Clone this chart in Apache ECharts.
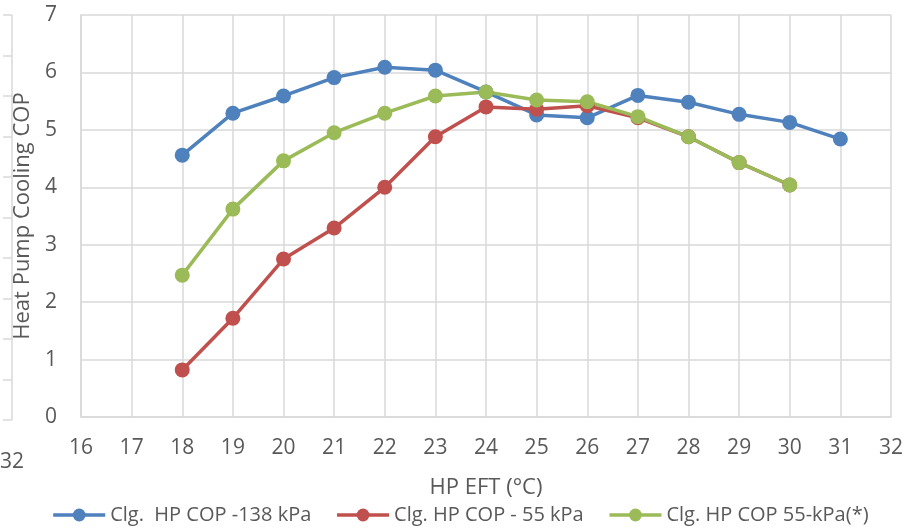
<!DOCTYPE html>
<html><head><meta charset="utf-8">
<script src="https://cdn.jsdelivr.net/npm/echarts@6/dist/echarts.min.js"></script>
<style>html,body{margin:0;padding:0;background:#fff}#c{width:920px;height:531px}</style>
</head><body><div id="c"></div>
<script>
const xValues = [18,19,20,21,22,23,24,25,26,27,28,29,30,31];
const seriesNames = ['Clg.  HP COP -138 kPa','Clg. HP COP - 55 kPa','Clg. HP COP 55-kPa(*)'];
const cop138 = [4.56,5.29,5.59,5.91,6.09,6.04,5.66,5.26,5.21,5.60,5.48,5.27,5.13,4.84];
const cop55 = [0.82,1.72,2.75,3.29,4.00,4.88,5.40,5.36,5.42,5.21,4.88,4.43,4.04];
const cop55s = [2.47,3.62,4.46,4.95,5.29,5.59,5.66,5.52,5.49,5.23,4.88,4.43,4.04];
const xTicks = {min:16,max:32,interval:1};
const yTicks = {min:0,max:7,interval:1};
const sideTicks = {min:0,max:32,interval:32};

const colors = ['#4F81BD','#C0504D','#9BBB59'];
const font = '"Open Sans", sans-serif';
const grey = '#595959';
const gridC = '#d9d9d9';
function pairs(v){return v.map((y,i)=>[xValues[i],y]);}
const chart = echarts.init(document.getElementById('c'));
const common = {symbol:'circle',symbolSize:15,xAxisIndex:0,yAxisIndex:0,type:'line'};
chart.setOption({
  animation:false,
  textStyle:{fontFamily:font},
  grid:[
    {left:81,right:29,top:15,bottom:114,containLabel:false},
    {left:0,width:12,top:15,bottom:111,containLabel:false}
  ],
  legend:{
    bottom:1,left:'center',itemWidth:52,itemHeight:16,itemGap:24,
    lineStyle:{width:3.5},
    textStyle:{fontFamily:font,fontSize:20,color:grey},
    data:seriesNames
  },
  xAxis:[
    {type:'value',gridIndex:0,min:xTicks.min,max:xTicks.max,interval:xTicks.interval,
     name:'HP EFT (°C)',nameLocation:'middle',nameGap:60,
     nameTextStyle:{fontFamily:font,fontSize:22,color:grey},
     axisLine:{show:true,lineStyle:{color:gridC,width:1.5}},axisTick:{show:false},
     axisLabel:{fontSize:21,color:grey,margin:21,fontFamily:font},
     splitLine:{show:true,lineStyle:{color:gridC,width:1.5}}},
    {type:'value',gridIndex:1,min:sideTicks.min,max:sideTicks.max,interval:sideTicks.interval,
     axisLine:{show:false},axisTick:{show:false},
     axisLabel:{fontSize:21,color:grey,margin:32,fontFamily:font,showMinLabel:false},
     splitLine:{show:true,showMinLine:false,lineStyle:{color:gridC,width:1.5}}}
  ],
  yAxis:[
    {type:'value',gridIndex:0,min:yTicks.min,max:yTicks.max,interval:yTicks.interval,
     name:'Heat Pump Cooling COP',nameLocation:'middle',nameGap:46,
     nameTextStyle:{fontFamily:font,fontSize:22,color:grey},
     axisLine:{show:true,lineStyle:{color:gridC,width:1.5}},axisTick:{show:false},
     axisLabel:{fontSize:21,color:grey,margin:24,fontFamily:font},
     splitLine:{show:true,lineStyle:{color:gridC,width:1.5}}},
    {type:'value',gridIndex:1,min:0,max:10,interval:1,
     axisLine:{show:false},axisTick:{show:false},axisLabel:{show:false},
     splitLine:{show:true,lineStyle:{color:gridC,width:1.5}}}
  ],
  series:[
    Object.assign({name:seriesNames[0],data:pairs(cop138),color:colors[0],lineStyle:{width:3.5,color:colors[0]},itemStyle:{color:colors[0]}},common),
    Object.assign({name:seriesNames[1],data:pairs(cop55),color:colors[1],lineStyle:{width:3.5,color:colors[1]},itemStyle:{color:colors[1]}},common),
    Object.assign({name:seriesNames[2],data:pairs(cop55s),color:colors[2],lineStyle:{width:3.5,color:colors[2]},itemStyle:{color:colors[2]}},common)
  ]
});
</script></body></html>
